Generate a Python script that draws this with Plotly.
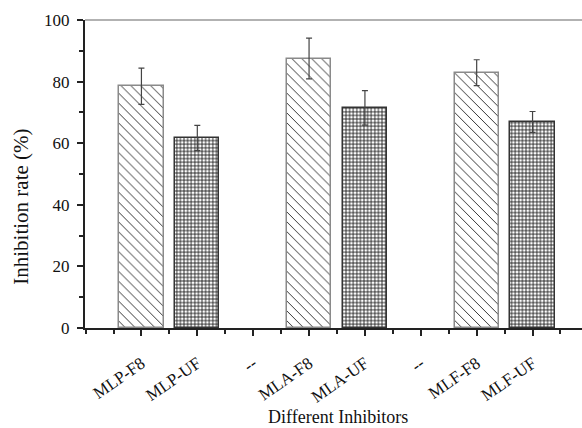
import plotly.graph_objects as go

# ---- data ----
categories = ["MLP-F8", "MLP-UF", "--", "MLA-F8", "MLA-UF", "--", "MLF-F8", "MLF-UF"]
f8_names = ["MLP-F8", "MLA-F8", "MLF-F8"]
f8_values = [78.5, 87.5, 82.9]
f8_errors = [5.9, 6.6, 4.2]
uf_names = ["MLP-UF", "MLA-UF", "MLF-UF"]
uf_values = [61.7, 71.5, 66.9]
uf_errors = [4.1, 5.6, 3.4]
y_ticks = [0, 20, 40, 60, 80, 100]

f8_x = [categories.index(n) for n in f8_names]
uf_x = [categories.index(n) for n in uf_names]

FONT = "Liberation Serif"

fig = go.Figure()
fig.add_trace(go.Bar(
    x=f8_x, y=f8_values, width=0.79,
    marker=dict(color="white",
                line=dict(color="#8a8a8a", width=1.5),
                pattern=dict(shape="\\", size=7, solidity=0.14,
                             fgcolor="#333333", bgcolor="white", fillmode="replace")),
    error_y=dict(type="data", array=f8_errors, color="#444444", thickness=1.2, width=3),
    showlegend=False,
))
fig.add_trace(go.Bar(
    x=uf_x, y=uf_values, width=0.79,
    marker=dict(color="white",
                line=dict(color="#333333", width=1.5),
                pattern=dict(shape="+", size=3.6, solidity=0.4,
                             fgcolor="#111111", bgcolor="white", fillmode="replace")),
    error_y=dict(type="data", array=uf_errors, color="#444444", thickness=1.2, width=3),
    showlegend=False,
))

n = len(categories)
fig.update_layout(
    width=582, height=428,
    margin=dict(l=85, r=0, t=20, b=100),
    paper_bgcolor="white", plot_bgcolor="white",
    bargap=0,
    font=dict(family=FONT, color="#111111"),
    xaxis=dict(
        range=[-1.01, 7.885],
        tickmode="array", tickvals=list(range(n)), ticktext=categories,
        tickangle=-35, tickfont=dict(size=17, family=FONT),
        ticks="outside", ticklen=6, tickwidth=1.5, tickcolor="#222",
        ticklabelstandoff=11,
        minor=dict(tickvals=[i - 0.5 for i in range(n + 1)] + [-1], ticks="outside",
                   ticklen=4, tickwidth=1.5, tickcolor="#222"),
        showline=True, linecolor="#222", linewidth=2,
        showgrid=False, zeroline=False, fixedrange=True,
    ),
    yaxis=dict(
        range=[0, 100],
        tickmode="array", tickvals=y_ticks,
        tickfont=dict(size=17, family=FONT),
        ticks="outside", ticklen=6, tickwidth=1.5, tickcolor="#222",
        ticklabelstandoff=4,
        minor=dict(tickvals=[10, 30, 50, 70, 90], ticks="outside",
                   ticklen=4, tickwidth=1.5, tickcolor="#222"),
        showline=True, linecolor="#222", linewidth=2,
        showgrid=False, zeroline=False,
    ),
    shapes=[dict(type="line", xref="paper", yref="paper", x0=0, x1=1, y0=1, y1=1,
                 line=dict(color="#999999", width=1.5))],
    annotations=[
        dict(text="Inhibition rate (%)", textangle=-90, xref="paper", yref="paper",
             x=-0.128, y=0.395, xanchor="center", yanchor="middle", showarrow=False,
             font=dict(size=21, family=FONT, color="#111")),
        dict(text="Different Inhibitors", xref="paper", yref="paper",
             x=0.51, y=-0.29, xanchor="center", yanchor="middle", showarrow=False,
             font=dict(size=18, family=FONT, color="#111")),
    ],
)

fig.write_html("out.html")
